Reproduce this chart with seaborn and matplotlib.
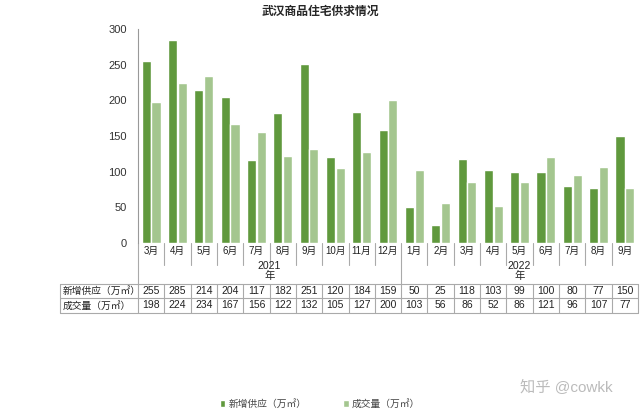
import numpy as np
import pandas as pd
import matplotlib.pyplot as plt
import seaborn as sns

# 月度数据：新增供应 / 成交量（万㎡）
months = ['3月', '4月', '5月', '6月', '7月', '8月', '9月', '10月', '11月', '12月',
          '1月', '2月', '3月', '4月', '5月', '6月', '7月', '8月', '9月']
years = ['2021'] * 10 + ['2022'] * 9
supply = [255, 285, 214, 204, 117, 182, 251, 120, 184, 159,
          50, 25, 118, 103, 99, 100, 80, 77, 150]
deals = [198, 224, 234, 167, 156, 122, 132, 105, 127, 200,
         103, 56, 86, 52, 86, 121, 96, 107, 77]
series = ['新增供应（万㎡）', '成交量（万㎡）']
colors = ['#60993d', '#a4c68f']

sns.set_style('white')
plt.rcParams['font.family'] = ['Liberation Sans', 'Noto Sans CJK SC', 'DejaVu Sans']

keys = [f'{y}-{m}' for y, m in zip(years, months)]
df = pd.DataFrame({
    'key': keys * 2,
    'value': supply + deals,
    'series': [series[0]] * len(keys) + [series[1]] * len(keys),
})

fig = plt.figure(figsize=(6.4, 4.16), dpi=100)
ax = fig.add_axes([138 / 640, 1 - 243 / 416, 500 / 640, 214 / 416])

sns.barplot(data=df, x='key', y='value', hue='series', order=keys,
            hue_order=series, palette=colors, width=0.74, gap=0.07,
            saturation=1, ax=ax, legend=True)

ax.set_xlim(-0.5, len(keys) - 0.5)
ax.set_ylim(0, 300)
ax.set_yticks(range(0, 301, 50))
ax.set_xticks([])
ax.set_xlabel('')
ax.set_ylabel('')
ax.tick_params(axis='y', length=0, pad=8, labelsize=8, labelcolor='#333333')
for s in ['top', 'right', 'bottom']:
    ax.spines[s].set_visible(False)
ax.spines['left'].set_color('#999999')
ax.spines['left'].set_linewidth(0.8)

handles, labels = ax.get_legend_handles_labels()
ax.get_legend().remove()

# 表格区域（像素 -> 坐标轴比例）
def ya(p):
    return (243 - p) / 214

tr = ax.get_xaxis_transform()
lc = '#aaaaaa'
n = len(keys)
left_x = -0.5 - 78 / 26.3

def line(x0, x1, y0, y1):
    ax.plot([x0, x1], [y0, y1], transform=tr, color=lc, lw=0.8, clip_on=False)

# 月份标签与分隔线
for i, m in enumerate(months):
    ax.text(i, ya(251), m, transform=tr, ha='center', va='center', fontsize=7,
            color='#222222')
for i in range(n):
    b = i + 0.5
    if i == 9:
        line(b, b, 0, ya(284))
    elif i < n - 1:
        line(b, b, 0, ya(265))
line(-0.5, -0.5, 0, ya(284))

# 年份
ax.text(4.5, ya(271), '2021\n年', transform=tr, ha='center', va='center',
        fontsize=7.5, color='#222222', linespacing=1.1)
ax.text(14, ya(271), '2022\n年', transform=tr, ha='center', va='center',
        fontsize=7.5, color='#222222', linespacing=1.1)

# 数据表
for yp in [284, 298, 313]:
    line(left_x, n - 0.5, ya(yp), ya(yp))
line(left_x, left_x, ya(284), ya(313))
for i in range(n + 1):
    line(i - 0.5, i - 0.5, ya(284), ya(313))

for row, (label, vals) in enumerate(zip(series, [supply, deals])):
    yc = ya(291 + row * 14.5)
    ax.text(left_x + 0.1, yc, label, transform=tr, ha='left', va='center',
            fontsize=7, color='#222222')
    for i, v in enumerate(vals):
        ax.text(i, yc, str(v), transform=tr, ha='center', va='center',
                fontsize=7.5, color='#222222')

fig.text(0.5, 1 - 12 / 416, '武汉商品住宅供求情况', ha='center', va='center',
         fontsize=8.5, fontweight='bold')

fig.legend(handles, labels, loc='center', bbox_to_anchor=(0.5, 1 - 404 / 416),
           ncol=2, frameon=False, fontsize=7, handlelength=0.6,
           handleheight=0.6, handletextpad=0.3, columnspacing=3.8,
           labelcolor='#444444')

fig.text(0.885, 1 - 387 / 416, '知乎 @cowkk', ha='center', va='center',
         fontsize=11, color='#bbbbbb')

fig.savefig('out.png', dpi=100)
